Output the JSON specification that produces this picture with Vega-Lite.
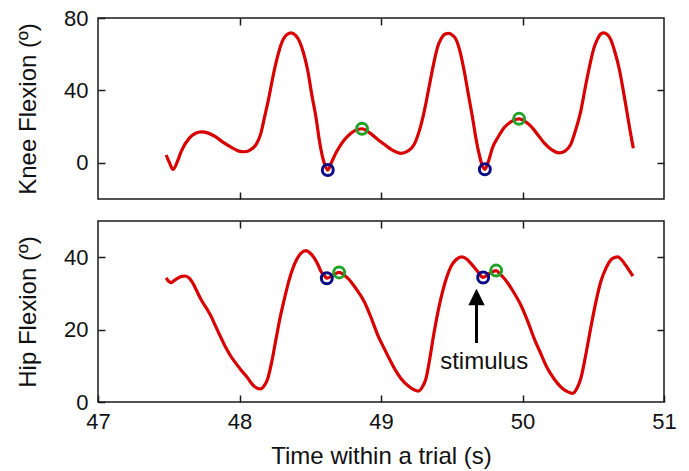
{
  "$schema": "https://vega.github.io/schema/vega-lite/v6.json",
  "background": "white",
  "padding": {"left": 15, "top": 6, "right": 5, "bottom": 0},
  "spacing": 18,
  "config": {
    "font": "Liberation Sans",
    "view": {"stroke": "#1a1a1a", "strokeWidth": 1.5},
    "axis": {
      "domain": false, "grid": false,
      "tickColor": "#1a1a1a", "tickWidth": 1.5, "tickSize": -7,
      "labelFont": "Liberation Sans", "labelFontSize": 22, "labelColor": "#111",
      "titleFont": "Liberation Sans", "titleFontSize": 24, "titleFontWeight": "normal", "titleColor": "#111",
      "labelFlush": false
    }
  },
  "datasets": {
    "knee": [
      {"t": 47.482, "v": 4.3}, {"t": 47.505, "v": 0.0}, {"t": 47.53, "v": -3.6}, {"t": 47.56, "v": 0.5},
      {"t": 47.589, "v": 6.5}, {"t": 47.647, "v": 13.8}, {"t": 47.69, "v": 16.3}, {"t": 47.73, "v": 17.1},
      {"t": 47.78, "v": 16.4}, {"t": 47.824, "v": 14.7}, {"t": 47.88, "v": 11.6}, {"t": 47.94, "v": 8.7},
      {"t": 47.99, "v": 6.6}, {"t": 48.035, "v": 6.1}, {"t": 48.08, "v": 7.3}, {"t": 48.118, "v": 10.2},
      {"t": 48.15, "v": 16.0}, {"t": 48.176, "v": 24.9}, {"t": 48.205, "v": 35.0}, {"t": 48.235, "v": 47.0},
      {"t": 48.265, "v": 57.5}, {"t": 48.294, "v": 65.4}, {"t": 48.33, "v": 70.5}, {"t": 48.365, "v": 71.8},
      {"t": 48.395, "v": 70.5}, {"t": 48.423, "v": 67.2}, {"t": 48.455, "v": 60.0}, {"t": 48.483, "v": 50.7},
      {"t": 48.51, "v": 38.0}, {"t": 48.541, "v": 24.9}, {"t": 48.565, "v": 12.0}, {"t": 48.588, "v": 2.8},
      {"t": 48.61, "v": -2.5}, {"t": 48.624, "v": -4.0}, {"t": 48.65, "v": 0.2}, {"t": 48.682, "v": 5.5},
      {"t": 48.72, "v": 10.5}, {"t": 48.765, "v": 14.7}, {"t": 48.815, "v": 17.8}, {"t": 48.866, "v": 18.8},
      {"t": 48.92, "v": 16.5}, {"t": 48.977, "v": 12.9}, {"t": 49.03, "v": 9.8}, {"t": 49.08, "v": 7.0},
      {"t": 49.141, "v": 5.2}, {"t": 49.19, "v": 6.5}, {"t": 49.235, "v": 10.2}, {"t": 49.27, "v": 17.5},
      {"t": 49.306, "v": 28.6}, {"t": 49.34, "v": 42.0}, {"t": 49.376, "v": 56.2}, {"t": 49.4, "v": 64.0},
      {"t": 49.423, "v": 68.2}, {"t": 49.45, "v": 71.0}, {"t": 49.478, "v": 71.5}, {"t": 49.505, "v": 70.5},
      {"t": 49.53, "v": 68.2}, {"t": 49.56, "v": 61.0}, {"t": 49.588, "v": 50.7}, {"t": 49.618, "v": 37.5},
      {"t": 49.647, "v": 24.9}, {"t": 49.672, "v": 13.0}, {"t": 49.694, "v": 4.6}, {"t": 49.715, "v": -1.5},
      {"t": 49.734, "v": -3.6}, {"t": 49.76, "v": 1.0}, {"t": 49.788, "v": 8.3}, {"t": 49.83, "v": 14.5},
      {"t": 49.87, "v": 19.3}, {"t": 49.92, "v": 22.8}, {"t": 49.976, "v": 24.3}, {"t": 50.02, "v": 22.8},
      {"t": 50.059, "v": 20.3}, {"t": 50.105, "v": 15.8}, {"t": 50.153, "v": 11.0}, {"t": 50.205, "v": 7.3},
      {"t": 50.259, "v": 5.5}, {"t": 50.3, "v": 6.5}, {"t": 50.341, "v": 10.2}, {"t": 50.375, "v": 18.0},
      {"t": 50.412, "v": 28.6}, {"t": 50.447, "v": 43.0}, {"t": 50.482, "v": 56.2}, {"t": 50.505, "v": 63.5},
      {"t": 50.529, "v": 68.2}, {"t": 50.55, "v": 71.0}, {"t": 50.572, "v": 71.8}, {"t": 50.597, "v": 71.0},
      {"t": 50.623, "v": 68.2}, {"t": 50.652, "v": 61.5}, {"t": 50.682, "v": 52.5}, {"t": 50.712, "v": 40.0},
      {"t": 50.741, "v": 26.7}, {"t": 50.762, "v": 17.0}, {"t": 50.783, "v": 8.0}
    ],
    "hip": [
      {"t": 47.482, "v": 34.3}, {"t": 47.5, "v": 33.3}, {"t": 47.518, "v": 33.0}, {"t": 47.54, "v": 33.6},
      {"t": 47.565, "v": 34.2}, {"t": 47.59, "v": 34.7}, {"t": 47.617, "v": 34.8}, {"t": 47.645, "v": 34.2},
      {"t": 47.671, "v": 32.8}, {"t": 47.7, "v": 30.5}, {"t": 47.73, "v": 28.2}, {"t": 47.765, "v": 26.0},
      {"t": 47.8, "v": 23.6}, {"t": 47.835, "v": 20.6}, {"t": 47.871, "v": 17.6}, {"t": 47.905, "v": 14.9},
      {"t": 47.941, "v": 12.5}, {"t": 47.976, "v": 10.6}, {"t": 48.012, "v": 8.8}, {"t": 48.055, "v": 6.8},
      {"t": 48.094, "v": 4.7}, {"t": 48.12, "v": 3.9}, {"t": 48.148, "v": 3.6}, {"t": 48.175, "v": 4.5},
      {"t": 48.2, "v": 6.5}, {"t": 48.23, "v": 11.5}, {"t": 48.259, "v": 17.6}, {"t": 48.288, "v": 23.5},
      {"t": 48.318, "v": 28.6}, {"t": 48.347, "v": 33.2}, {"t": 48.377, "v": 36.9}, {"t": 48.405, "v": 39.4},
      {"t": 48.435, "v": 41.1}, {"t": 48.471, "v": 41.8}, {"t": 48.5, "v": 41.1}, {"t": 48.53, "v": 39.7},
      {"t": 48.555, "v": 37.9}, {"t": 48.577, "v": 36.0}, {"t": 48.6, "v": 34.9}, {"t": 48.617, "v": 34.2},
      {"t": 48.66, "v": 35.0}, {"t": 48.704, "v": 35.8}, {"t": 48.735, "v": 35.2}, {"t": 48.765, "v": 34.2},
      {"t": 48.82, "v": 31.5}, {"t": 48.882, "v": 27.7}, {"t": 48.93, "v": 23.3}, {"t": 48.977, "v": 18.5},
      {"t": 49.02, "v": 15.0}, {"t": 49.07, "v": 11.1}, {"t": 49.105, "v": 8.6}, {"t": 49.141, "v": 6.5},
      {"t": 49.2, "v": 4.2}, {"t": 49.264, "v": 3.0}, {"t": 49.29, "v": 4.0}, {"t": 49.318, "v": 6.5},
      {"t": 49.347, "v": 12.5}, {"t": 49.376, "v": 19.4}, {"t": 49.405, "v": 25.4}, {"t": 49.435, "v": 30.5},
      {"t": 49.465, "v": 34.5}, {"t": 49.494, "v": 37.4}, {"t": 49.53, "v": 39.3}, {"t": 49.572, "v": 40.1},
      {"t": 49.605, "v": 39.5}, {"t": 49.635, "v": 38.3}, {"t": 49.68, "v": 36.2}, {"t": 49.722, "v": 34.4},
      {"t": 49.77, "v": 35.6}, {"t": 49.814, "v": 36.3}, {"t": 49.84, "v": 35.4}, {"t": 49.87, "v": 34.2},
      {"t": 49.93, "v": 30.8}, {"t": 49.988, "v": 26.8}, {"t": 50.035, "v": 22.5}, {"t": 50.082, "v": 17.6},
      {"t": 50.13, "v": 13.3}, {"t": 50.176, "v": 9.3}, {"t": 50.225, "v": 6.3}, {"t": 50.27, "v": 4.2},
      {"t": 50.31, "v": 3.0}, {"t": 50.353, "v": 2.4}, {"t": 50.385, "v": 3.8}, {"t": 50.412, "v": 6.5},
      {"t": 50.447, "v": 13.0}, {"t": 50.482, "v": 20.4}, {"t": 50.518, "v": 27.5}, {"t": 50.553, "v": 33.2},
      {"t": 50.59, "v": 37.0}, {"t": 50.623, "v": 39.2}, {"t": 50.65, "v": 39.9}, {"t": 50.675, "v": 40.1},
      {"t": 50.7, "v": 39.3}, {"t": 50.729, "v": 37.8}, {"t": 50.755, "v": 36.3}, {"t": 50.78, "v": 34.8}
    ],
    "kneeMarks": [
      {"t": 48.624, "v": -4.0, "kind": "onset"}, {"t": 48.866, "v": 18.8, "kind": "peak"},
      {"t": 49.734, "v": -3.6, "kind": "onset"}, {"t": 49.976, "v": 24.3, "kind": "peak"}
    ],
    "hipMarks": [
      {"t": 48.617, "v": 34.2, "kind": "onset"}, {"t": 48.704, "v": 35.8, "kind": "peak"},
      {"t": 49.722, "v": 34.4, "kind": "onset"}, {"t": 49.814, "v": 36.3, "kind": "peak"}
    ],
    "arrow": [{"t": 49.675, "v1": 16.3, "v2": 27.5, "head": 29.0}],
    "label": [{"t": 49.729, "v": 9.1, "text": "stimulus"}]
  },
  "vconcat": [
    {
      "width": 566, "height": 181,
      "layer": [
        {
          "data": {"name": "knee"},
          "mark": {"type": "line", "color": "#d80000", "strokeWidth": 3.2, "interpolate": "monotone", "clip": true},
          "encoding": {
            "x": {"field": "t", "type": "quantitative", "scale": {"domain": [47, 51], "nice": false, "zero": false},
                  "axis": {"orient": "bottom", "values": [48, 49, 50], "labels": false, "title": null}},
            "y": {"field": "v", "type": "quantitative", "scale": {"domain": [-20, 80], "nice": false, "zero": false},
                  "axis": {"orient": "left", "values": [0, 40, 80], "title": "Knee Flexion (º)", "labelPadding": 17, "titlePadding": 23}}
          }
        },
        {
          "data": {"name": "kneeMarks"},
          "mark": {"type": "point", "filled": false, "size": 120, "strokeWidth": 3, "opacity": 1},
          "encoding": {
            "x": {"field": "t", "type": "quantitative", "axis": {"orient": "top", "values": [48, 49, 50], "labels": false, "title": null}},
            "y": {"field": "v", "type": "quantitative", "axis": {"orient": "right", "values": [0, 40], "labels": false, "title": null}},
            "color": {"field": "kind", "type": "nominal", "scale": {"domain": ["onset", "peak"], "range": ["#0b0b86", "#22a32a"]}, "legend": null}
          }
        }
      ],
      "resolve": {"axis": {"x": "independent", "y": "independent"}}
    },
    {
      "width": 566, "height": 181,
      "layer": [
        {
          "data": {"name": "hip"},
          "mark": {"type": "line", "color": "#d80000", "strokeWidth": 3.2, "interpolate": "monotone", "clip": true},
          "encoding": {
            "x": {"field": "t", "type": "quantitative", "scale": {"domain": [47, 51], "nice": false, "zero": false},
                  "axis": {"orient": "bottom", "values": [47, 48, 49, 50, 51], "title": "Time within a trial (s)", "labelPadding": 16, "titlePadding": 12}},
            "y": {"field": "v", "type": "quantitative", "scale": {"domain": [0, 50], "nice": false, "zero": false},
                  "axis": {"orient": "left", "values": [0, 20, 40], "title": "Hip Flexion (º)", "labelPadding": 17, "titlePadding": 23}}
          }
        },
        {
          "data": {"name": "hipMarks"},
          "mark": {"type": "point", "filled": false, "size": 120, "strokeWidth": 3, "opacity": 1},
          "encoding": {
            "x": {"field": "t", "type": "quantitative", "axis": {"orient": "top", "values": [48, 49, 50], "labels": false, "title": null}},
            "y": {"field": "v", "type": "quantitative", "axis": {"orient": "right", "values": [20, 40], "labels": false, "title": null}},
            "color": {"field": "kind", "type": "nominal", "scale": {"domain": ["onset", "peak"], "range": ["#0b0b86", "#22a32a"]}, "legend": null}
          }
        },
        {
          "data": {"name": "arrow"},
          "mark": {"type": "rule", "color": "black", "strokeWidth": 3},
          "encoding": {
            "x": {"field": "t", "type": "quantitative", "axis": null},
            "y": {"field": "v1", "type": "quantitative", "axis": null},
            "y2": {"field": "v2"}
          }
        },
        {
          "data": {"name": "arrow"},
          "mark": {"type": "point", "shape": "M-1,1L1,1L0,-1Z", "filled": true, "color": "black", "size": 270, "opacity": 1},
          "encoding": {
            "x": {"field": "t", "type": "quantitative", "axis": null},
            "y": {"field": "head", "type": "quantitative", "axis": null}
          }
        },
        {
          "data": {"name": "label"},
          "mark": {"type": "text", "fontSize": 24, "color": "#111", "align": "center", "baseline": "alphabetic", "font": "Liberation Sans"},
          "encoding": {
            "x": {"field": "t", "type": "quantitative", "axis": null},
            "y": {"field": "v", "type": "quantitative", "axis": null},
            "text": {"field": "text"}
          }
        }
      ],
      "resolve": {"axis": {"x": "independent", "y": "independent"}}
    }
  ]
}
